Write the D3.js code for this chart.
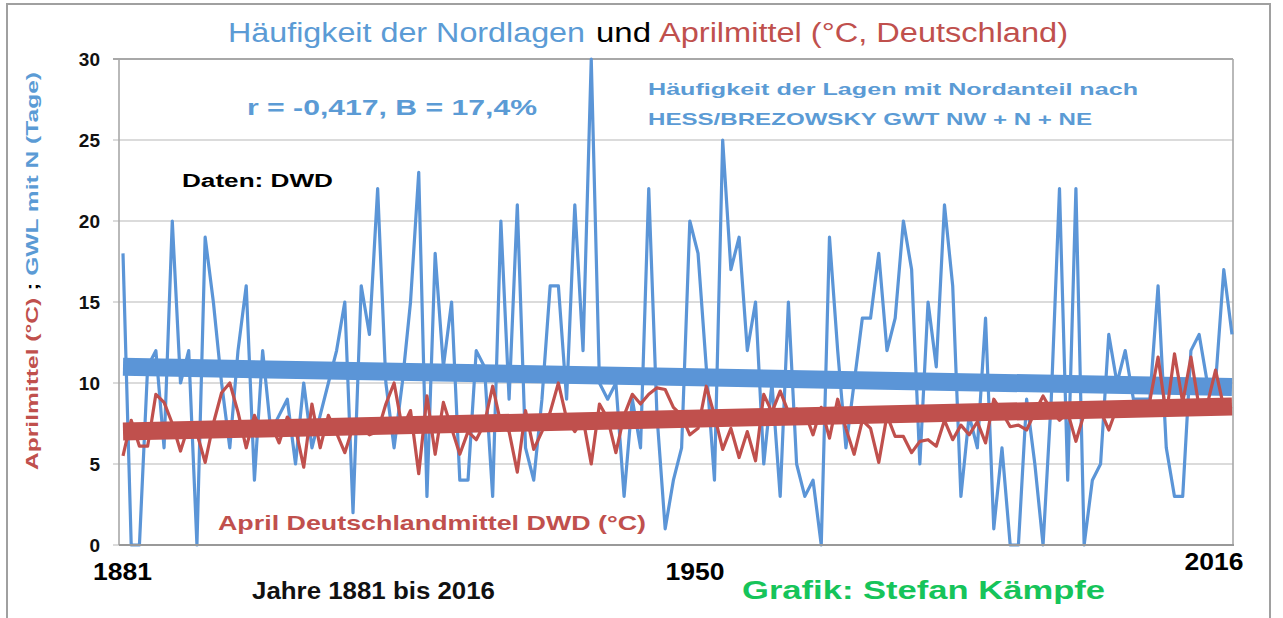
<!DOCTYPE html>
<html><head><meta charset="utf-8">
<script src="https://cdn.jsdelivr.net/npm/d3@7/dist/d3.min.js"></script>
<style>body{margin:0;background:#fff;} svg{display:block;}</style>
</head><body><svg id="c" width="1283" height="618"></svg>
<script>
// ---- data ----
const firstYear = 1881, lastYear = 2016;
const yearLabels = ["1881", "1950", "2016"];
const yTicks = [0, 5, 10, 15, 20, 25, 30];
// Häufigkeit der Lagen mit Nordanteil (Tage), 1881..2016
const northDays = [
 18,0,0,11,12,6,20,10,12,0, 19,15,10,6,12,16,4,12,7,8,
 9,5,10,6,8,10,12,15,2,16, 13,22,10,6,10,15,23,3,18,11,
 15,4,4,12,11,3,20,9,21,6, 4,9,16,16,9,21,12,30,10,9,
 10,3,9,6,22,8,1,4,6,20, 18,11,4,25,17,19,12,15,5,10,
 3,15,5,3,4,0,19,12,6,10, 14,14,18,12,14,20,17,5,15,11,
 21,16,3,8,6,14,1,6,0,0, 9,5,0,9,22,4,22,0,4,5,
 13,10,12,9,9,9,16,6,3,3, 12,13,10,10,17,13];
// Aprilmittel Deutschland (°C), 1881..2016
const aprilTemp = [
 5.5,7.7,6.1,6.1,9.3,8.8,7.5,5.8,7.4,6.9, 5.1,7.5,9.4,10.0,8.2,6.0,8.0,6.8,7.5,6.3,
 7.9,7.2,4.8,8.7,6.0,8.0,6.9,5.7,7.3,7.2, 6.8,7.0,8.7,10.0,7.2,8.3,4.4,9.2,5.6,8.8,
 7.2,5.6,7.0,6.5,7.5,9.8,7.5,7.0,4.5,8.3, 5.9,7.0,8.2,10.0,7.8,7.0,7.8,5.0,8.7,7.8,
 5.7,8.0,9.3,8.7,9.3,9.7,9.6,8.5,8.0,6.8, 7.2,9.8,8.0,5.9,7.2,5.4,7.0,5.2,9.3,8.2,
 9.5,8.2,8.4,8.2,6.8,8.5,6.6,9.0,7.2,5.6, 7.7,7.2,5.1,8.0,6.7,6.7,5.7,6.4,6.5,6.1,
 7.7,6.5,7.4,6.8,7.6,6.3,9.0,8.2,7.3,7.4, 7.1,8.2,9.2,8.3,7.7,8.2,6.4,8.1,8.6,8.3,
 7.1,8.5,8.6,8.4,8.7,8.9,11.6,8.0,11.8,8.8, 11.6,8.5,8.7,10.8,8.5,8.4];
// linear trend end values (start 1881, end 2016)
const northTrend = [11.0, 9.75];
const tempTrend = [7.0, 8.55];

// ---- drawing ----
const BLUE = "#5b95d7", RED = "#c0504d", TBLUE = "#5b9bd5";
const svg = d3.select("#c");
const x = d3.scaleLinear().domain([firstYear, lastYear]).range([123, 1232]);
const y = d3.scaleLinear().domain([0, 30]).range([545, 59]);

// outer frame
svg.append("rect").attr("x", 7).attr("y", 4).attr("width", 1263).attr("height", 640)
  .attr("fill", "#fff").attr("stroke", "#a0a0a0").attr("stroke-width", 2);

// gridlines
svg.append("g").selectAll("line").data(yTicks).join("line")
  .attr("x1", 113).attr("x2", 1233).attr("y1", d => y(d)).attr("y2", d => y(d))
  .attr("stroke", d => d === 30 ? "#a8a8a8" : "#cfcfcf").attr("stroke-width", d => d === 30 ? 2 : 1.6);
// axes frame
svg.append("line").attr("x1", 119).attr("x2", 119).attr("y1", y(30)).attr("y2", y(0)).attr("stroke", "#a8a8a8").attr("stroke-width", 1.6);
svg.append("line").attr("x1", 1233).attr("x2", 1233).attr("y1", y(30)).attr("y2", y(0)).attr("stroke", "#a8a8a8").attr("stroke-width", 1.6);

// y tick labels via axis
const yAxis = d3.axisLeft(y).tickValues(yTicks).tickSize(0).tickPadding(0);
const ya = svg.append("g").attr("transform", "translate(100,0)").call(yAxis);
ya.select(".domain").remove();
ya.selectAll("text").attr("font-family", "Liberation Sans, Arial, sans-serif")
  .attr("font-weight", "bold").attr("font-size", 19).attr("fill", "#111").attr("dy", "0.36em");

const years = northDays.map((d, i) => firstYear + i);
const lineN = d3.line().x((d, i) => x(years[i])).y(d => y(d));

// blue series
svg.append("path").datum(northDays).attr("d", lineN).attr("fill", "none")
  .attr("stroke", BLUE).attr("stroke-width", 3.2).attr("stroke-linejoin", "round");
// blue trend
svg.append("line").attr("x1", x(firstYear)).attr("x2", x(lastYear))
  .attr("y1", y(northTrend[0])).attr("y2", y(northTrend[1]))
  .attr("stroke", BLUE).attr("stroke-width", 18);
// red series
svg.append("path").datum(aprilTemp).attr("d", lineN).attr("fill", "none")
  .attr("stroke", RED).attr("stroke-width", 3.2).attr("stroke-linejoin", "round");
// red trend
svg.append("line").attr("x1", x(firstYear)).attr("x2", x(lastYear))
  .attr("y1", y(tempTrend[0])).attr("y2", y(tempTrend[1]))
  .attr("stroke", RED).attr("stroke-width", 18);

// bottom axis line
svg.append("line").attr("x1", 119).attr("x2", 1234).attr("y1", y(0)).attr("y2", y(0))
  .attr("stroke", "#999").attr("stroke-width", 2);

function txt(xp, yp, s, size, weight, fill, len, anchor) {
  const t = svg.append("text").attr("x", xp).attr("y", yp).text(s)
    .attr("font-family", "Liberation Sans, Arial, sans-serif")
    .attr("font-size", size).attr("font-weight", weight).attr("fill", fill)
    .attr("text-anchor", anchor || "start");
  if (len) t.attr("textLength", len).attr("lengthAdjust", "spacingAndGlyphs");
  return t;
}

// title
txt(228, 42, "Häufigkeit der Nordlagen", 27, "normal", TBLUE, 357);
txt(596, 42, "und", 27, "normal", "#000", 55);
txt(659, 42, "Aprilmittel (°C, Deutschland)", 27, "normal", RED, 409);

// annotations
txt(247, 115, "r = -0,417, B = 17,4%", 22, "bold", TBLUE, 290);
txt(648, 95, "Häufigkeit der Lagen mit Nordanteil nach", 17, "bold", TBLUE, 490);
txt(648, 125, "HESS/BREZOWSKY GWT NW + N + NE", 17, "bold", TBLUE, 444);
txt(182, 187, "Daten: DWD", 18, "bold", "#000", 151);
txt(218, 530, "April Deutschlandmittel DWD (°C)", 21, "bold", RED, 428);

// x labels
const xl = [[yearLabels[0], 122.5, 580], [yearLabels[1], 695, 580], [yearLabels[2], 1214, 570]];
xl.forEach(d => txt(d[1], d[2], d[0], 23, "bold", "#000", 59, "middle"));
txt(252, 599, "Jahre 1881 bis 2016", 23, "bold", "#111", 243);
txt(742, 599, "Grafik: Stefan Kämpfe", 25, "bold", "#16c45a", 363);

// y axis title
const yt = svg.append("text").attr("transform", "translate(38,271) rotate(-90)")
  .attr("text-anchor", "middle").attr("font-family", "Liberation Sans, Arial, sans-serif")
  .attr("font-size", 17).attr("font-weight", "bold")
  .attr("textLength", 398).attr("lengthAdjust", "spacingAndGlyphs");
yt.append("tspan").attr("fill", RED).text("Aprilmittel (°C)");
yt.append("tspan").attr("fill", "#000").text(" ; ");
yt.append("tspan").attr("fill", TBLUE).text("GWL mit N (Tage)");
</script></body></html>
